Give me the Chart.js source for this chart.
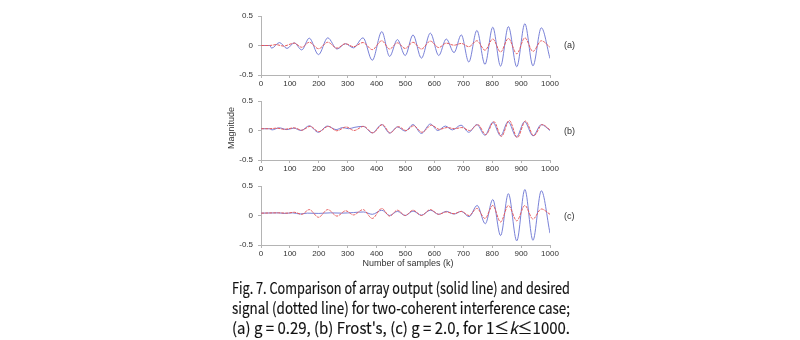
<!DOCTYPE html>
<html>
<head>
<meta charset="utf-8">
<script src="https://cdn.jsdelivr.net/npm/chart.js@4.4.1/dist/chart.umd.min.js"></script>
<style>
  html, body { margin: 0; padding: 0; background: #fff; }
  #page { position: relative; width: 800px; height: 340px; overflow: hidden;
          font-family: "Liberation Sans", Arial, sans-serif; color: #333; }
  .panel { position: absolute; left: 200px; }
  .tag { position: absolute; left: 564px; font-size: 9px; line-height: 10px; }
  #ylab { position: absolute; left: 231px; top: 128px; font-size: 9px; line-height: 10px;
          transform: translate(-50%, -50%) rotate(-90deg); white-space: nowrap; }
  #xlab { position: absolute; left: 408px; top: 263px; font-size: 9px; line-height: 10px;
          transform: translate(-50%, -50%); white-space: nowrap; }
  .cap { position: absolute; left: 232px; font-family: "Noto Sans CJK KR", "Noto Sans", sans-serif;
         font-size: 16px; line-height: 20px; color: #111; white-space: nowrap;
         transform-origin: 0 50%; -webkit-text-stroke: 0.15px #111; }
</style>
</head>
<body>
<div id="page">
  <canvas id="pa" class="panel" width="400" height="85" style="top:5px"></canvas>
  <canvas id="pb" class="panel" width="400" height="85" style="top:90px"></canvas>
  <canvas id="pc" class="panel" width="400" height="85" style="top:175px"></canvas>
  <div class="tag" style="top:40px">(a)</div>
  <div class="tag" style="top:126px">(b)</div>
  <div class="tag" style="top:211px">(c)</div>
  <div id="ylab">Magnitude</div>
  <div id="xlab">Number of samples (k)</div>
  <div class="cap" style="top:277px">Fig. 7. Comparison of array output (solid line) and desired</div>
  <div class="cap" style="top:297px">signal (dotted line) for two-coherent interference case;</div>
  <div class="cap" style="top:317px">(a) g = 0.29, (b) Frost's, (c) g = 2.0, for 1≤<i>k</i>≤1000.</div>
</div>
<script>
// axis ticks
const kTicks = [0, 100, 200, 300, 400, 500, 600, 700, 800, 900, 1000];
const magTicks = [-0.5, 0, 0.5];

// (a) g = 0.29 : array output (solid) and desired signal (dotted), turning points
const aOutK = [1, 30, 37, 64, 90, 115, 141, 167, 199, 231, 263, 292, 320, 353, 385, 418, 445, 472, 499, 526, 555, 586, 615, 641, 668, 693, 719, 747, 775, 802, 829, 856, 885, 913, 941, 970, 1000];
const aOutV = [0, 0, -0.045, 0.05, -0.05, 0.045, -0.075, 0.125, -0.155, 0.13, -0.06, 0.03, -0.04, 0.13, -0.25, 0.235, -0.185, 0.1, -0.17, 0.18, -0.215, 0.21, -0.17, 0.11, -0.12, 0.18, -0.28, 0.255, -0.32, 0.31, -0.35, 0.32, -0.36, 0.37, -0.345, 0.3, -0.22];
const aRefK = [1, 30, 52, 78, 115, 141, 167, 199, 231, 263, 292, 320, 353, 385, 418, 445, 472, 499, 526, 555, 586, 615, 641, 668, 693, 719, 747, 775, 802, 829, 856, 885, 913, 941, 970, 1000];
const aRefV = [0, 0, 0.015, -0.01, 0.04, -0.03, 0.055, -0.055, 0.055, -0.045, 0.03, -0.02, 0.05, -0.07, 0.08, -0.06, 0.045, -0.05, 0.055, -0.06, 0.075, -0.035, 0.04, 0.005, 0.035, -0.02, 0.08, -0.08, 0.11, -0.11, 0.12, -0.14, 0.13, -0.1, 0.08, -0.03];

// (b) Frost's
const bOutK = [1, 30, 38, 63, 90, 113, 139, 167, 198, 230, 260, 283, 303, 325, 353, 385, 418, 445, 472, 499, 526, 555, 586, 612, 638, 662, 692, 719, 747, 775, 802, 829, 855, 884, 912, 941, 970, 1000];
const bOutV = [0.03, 0.03, 0.01, 0.045, 0.015, 0.04, 0.0, 0.08, -0.03, 0.075, 0.015, 0.05, 0.03, 0.055, 0.07, -0.04, 0.1, -0.045, 0.06, -0.01, 0.1, -0.05, 0.11, 0.0, 0.075, 0.01, 0.09, -0.03, 0.1, -0.08, 0.14, -0.09, 0.15, -0.11, 0.15, -0.09, 0.1, 0.0];
const bRefK = [1, 30, 55, 80, 115, 141, 170, 200, 233, 262, 295, 322, 355, 387, 420, 447, 475, 502, 528, 557, 590, 617, 645, 670, 695, 722, 750, 778, 806, 832, 859, 887, 915, 944, 973, 1000];
const bRefV = [0.03, 0.03, 0.04, 0.02, 0.045, 0.005, 0.07, -0.02, 0.07, -0.005, 0.06, 0.0, 0.07, -0.04, 0.1, -0.04, 0.065, 0.0, 0.08, -0.03, 0.09, 0.02, 0.05, 0.03, 0.05, 0.0, 0.1, -0.07, 0.15, -0.1, 0.17, -0.12, 0.16, -0.09, 0.1, 0.01];

// (c) g = 2.0
const cOutK = [1, 60, 80, 110, 135, 160, 200, 240, 280, 320, 355, 385, 418, 445, 472, 499, 526, 555, 586, 615, 641, 668, 693, 720, 748, 776, 802, 829, 856, 885, 913, 941, 970, 1000];
const cOutV = [0.04, 0.045, 0.035, 0.045, 0.025, 0.04, 0.035, 0.045, 0.04, 0.05, 0.06, 0.02, 0.09, 0.0, 0.07, 0.0, 0.075, 0.005, 0.09, 0.02, 0.07, 0.025, 0.07, -0.02, 0.17, -0.14, 0.27, -0.34, 0.37, -0.43, 0.44, -0.42, 0.42, -0.3];
const cRefK = [1, 60, 90, 115, 141, 167, 199, 231, 263, 293, 320, 353, 385, 418, 445, 472, 499, 526, 555, 586, 615, 641, 668, 693, 720, 747, 775, 802, 829, 856, 885, 913, 941, 970, 1000];
const cRefV = [0.04, 0.045, 0.04, 0.055, 0.02, 0.1, -0.03, 0.1, -0.01, 0.08, 0.01, 0.1, -0.05, 0.12, -0.01, 0.09, 0.0, 0.09, 0.0, 0.1, 0.02, 0.06, 0.03, 0.07, 0.0, 0.12, -0.05, 0.17, -0.11, 0.17, -0.09, 0.17, -0.06, 0.11, 0.02];

const BLUE = '#6a73d2';
const RED = '#e65a5c';
const AXIS = '#b4b4b4';
const TICK_FONT = { family: '"Liberation Sans", Arial, sans-serif', size: 8 };

function toPts(ks, vs) {
  return ks.map((k, i) => ({ x: k, y: vs[i] }));
}

function drawPanel(id, outK, outV, refK, refV) {
  return new Chart(document.getElementById(id), {
    type: 'line',
    data: {
      datasets: [
        // desired signal — drawn on top
        { data: toPts(refK, refV), borderColor: RED, borderWidth: 1, borderDash: [3, 1],
          pointRadius: 0, cubicInterpolationMode: 'monotone' },
        // array output
        { data: toPts(outK, outV), borderColor: BLUE, borderWidth: 0.9,
          pointRadius: 0, cubicInterpolationMode: 'monotone' },
      ],
    },
    options: {
      responsive: false,
      animation: false,
      events: [],
      layout: { padding: { left: 25, right: 50, top: 11, bottom: 0 } },
      plugins: { legend: { display: false }, tooltip: { enabled: false } },
      scales: {
        x: {
          type: 'linear', min: 0, max: 1000,
          afterBuildTicks: s => { s.ticks = kTicks.map(v => ({ value: v })); },
          afterFit: s => { s.height = 15; },
          grid: { drawOnChartArea: false, drawTicks: true, tickLength: 3, color: AXIS },
          border: { display: true, color: AXIS },
          ticks: { font: TICK_FONT, color: '#333', padding: 1, maxRotation: 0, autoSkip: false,
                   callback: v => String(v) },
        },
        y: {
          min: -0.5, max: 0.5,
          afterBuildTicks: s => { s.ticks = magTicks.map(v => ({ value: v })); },
          afterFit: s => { s.width = 36; },
          grid: { drawOnChartArea: false, drawTicks: true, tickLength: 3, color: AXIS },
          border: { display: true, color: AXIS },
          ticks: { font: TICK_FONT, color: '#333', padding: 5, callback: v => String(v) },
        },
      },
    },
  });
}

drawPanel('pa', aOutK, aOutV, aRefK, aRefV);
drawPanel('pb', bOutK, bOutV, bRefK, bRefV);
drawPanel('pc', cOutK, cOutV, cRefK, cRefV);

// caption lines are set flush to the same width
document.querySelectorAll('.cap').forEach(el => {
  const w = el.getBoundingClientRect().width;
  el.style.transform = 'scaleX(' + (338 / w) + ')';
});
</script>
</body>
</html>
